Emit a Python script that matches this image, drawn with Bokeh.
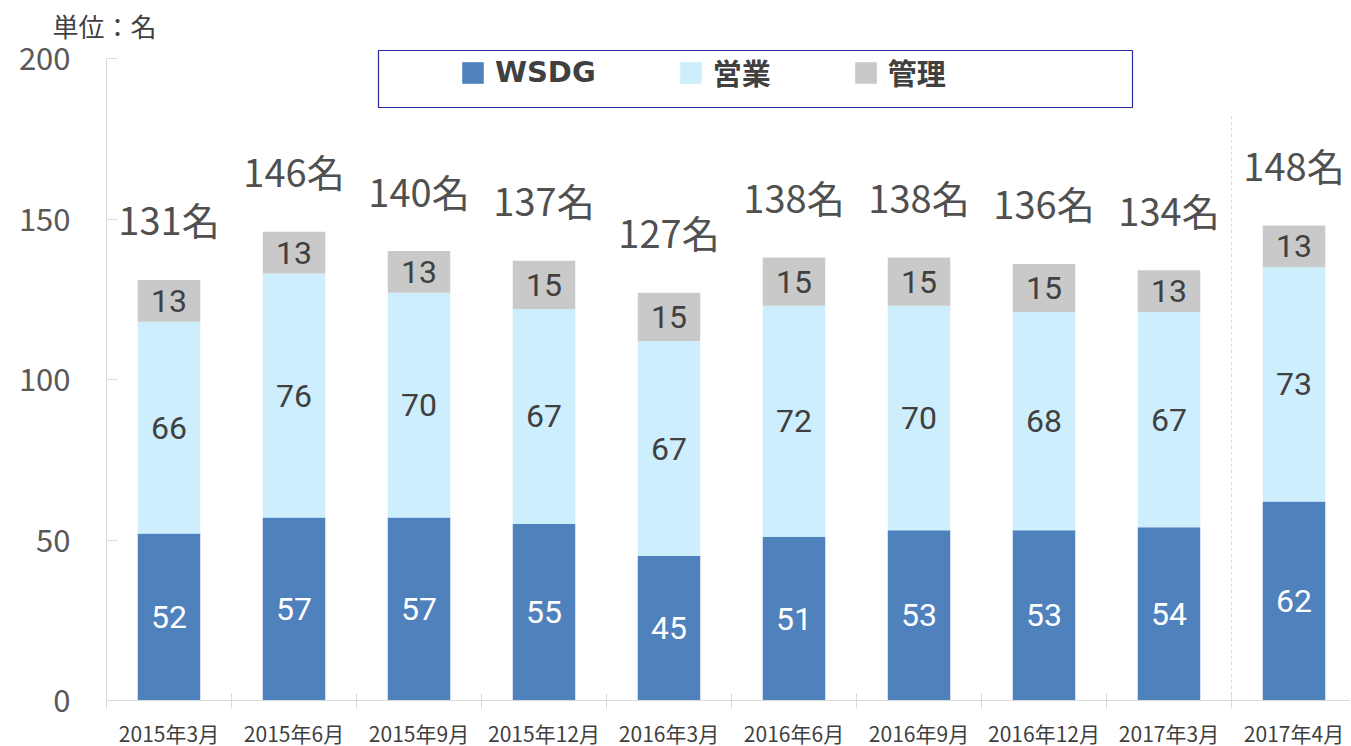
from bokeh.plotting import figure
from bokeh.models import (ColumnDataSource, Legend, LegendItem, BoxAnnotation,
                          FixedTicker, Range1d)
from bokeh.core.properties import value
from bokeh.embed import file_html
from bokeh.resources import INLINE

categories = ["2015年3月", "2015年6月", "2015年9月", "2015年12月", "2016年3月",
              "2016年6月", "2016年9月", "2016年12月", "2017年3月", "2017年4月"]
wsdg = [52, 57, 57, 55, 45, 51, 53, 53, 54, 62]
sales = [66, 76, 70, 67, 67, 72, 70, 68, 67, 73]
admin = [13, 13, 13, 15, 15, 15, 15, 15, 13, 13]
series_names = ["WSDG", "営業", "管理"]
y_ticks = [0, 50, 100, 150, 200]
unit_label = "単位：名"

colors = ["#4f81bd", "#cdeefd", "#c9c9c9"]
JP = "Noto Sans CJK JP"
NUM = "Roboto"
LEG = "'DejaVu Sans', 'Noto Sans CJK JP'"

n = len(categories)
xs = list(range(n))
totals = [a + b + c for a, b, c in zip(wsdg, sales, admin)]

src = ColumnDataSource(dict(x=xs, wsdg=wsdg, sales=sales, admin=admin, total=totals,
                            total_txt=[f"{t}名" for t in totals]))

PX = 3.21           # pixels per unit on y
FRAME_TOP_PAD = 10  # pixels of frame above the 200 line
FW = 1244
p = figure(frame_width=FW, frame_height=int(200 * PX) + FRAME_TOP_PAD,
           output_backend="svg", toolbar_location=None,
           x_range=Range1d(-0.5, -0.5 + FW / 125),
           y_range=Range1d(0, 200 + FRAME_TOP_PAD / PX),
           min_border_left=106, min_border_right=0, min_border_top=48, min_border_bottom=0)
p.outline_line_color = None
p.xgrid.visible = False
p.ygrid.visible = False
p.background_fill_color = "white"

p.title.text = unit_label
p.title.text_font = JP
p.title.text_font_size = "26px"
p.title.text_font_style = "normal"
p.title.text_color = "#404040"
p.title.align = "left"
p.title.offset = -54
p.title.standoff = 9

rs = p.vbar_stack(["wsdg", "sales", "admin"], x="x", width=0.5, source=src,
                  color=colors, line_color=None)

# separator before last category
sep_x = n - 1.5
p.segment(x0=[sep_x], y0=[-2], x1=[sep_x], y1=[182], line_color="#d9d9d9",
          line_width=1, line_dash="3 3")

# segment labels
seg_src = ColumnDataSource(dict(
    x=xs * 3,
    y=[w / 2 for w in wsdg] + [w + s / 2 for w, s in zip(wsdg, sales)]
      + [w + s + a / 2 for w, s, a in zip(wsdg, sales, admin)],
    t=[str(v) for v in wsdg + sales + admin],
    c=["white"] * n + ["#404040"] * (2 * n),
))
p.text(x="x", y="y", text="t", source=seg_src, text_color="c", text_align="center",
       text_baseline="middle", text_font=value(NUM), text_font_size="32px",
       text_font_style="normal")

# totals
p.text(x="x", y="total", text="total_txt", source=src, text_color="#505050",
       text_align="center", text_baseline="middle", y_offset=-61,
       text_font=value(JP), text_font_size="38px")

# axes
xa = p.xaxis[0]
xa.ticker = FixedTicker(ticks=xs, minor_ticks=[i - 0.5 for i in range(n + 1)])
xa.major_label_overrides = {i: c for i, c in enumerate(categories)}
xa.major_tick_in = 0
xa.major_tick_out = 0
xa.minor_tick_in = 7
xa.minor_tick_out = 8
xa.minor_tick_line_color = "#d9d9d9"
xa.axis_line_color = "#d9d9d9"
xa.major_label_text_font = JP
xa.major_label_text_font_size = "21px"
xa.major_label_text_color = "#404040"
xa.major_label_standoff = 9

ya = p.yaxis[0]
ya.ticker = FixedTicker(ticks=y_ticks)
ya.bounds = (0, 200)
ya.major_tick_in = 11
ya.major_tick_out = 0
ya.minor_tick_line_color = None
ya.major_tick_line_color = "#d9d9d9"
ya.axis_line_color = "#d9d9d9"
ya.major_label_text_font = JP
ya.major_label_text_font_size = "31px"
ya.major_label_text_color = "#595959"
ya.major_label_standoff = 36

# legend (frame-relative screen coords, y from frame bottom)
box = BoxAnnotation(left=272, right=1026, bottom=593, top=650,
                    left_units="screen", right_units="screen",
                    bottom_units="screen", top_units="screen",
                    fill_alpha=0, line_color="#2a2aa0", line_alpha=1.0, line_width=1.2)
p.add_layout(box)

legend = Legend(items=[LegendItem(label=nm, renderers=[r]) for nm, r in zip(series_names, rs)],
                orientation="horizontal", location=(353, 607), padding=0, margin=0,
                spacing=81, glyph_width=27, glyph_height=27, label_standoff=9,
                label_height=27,
                label_text_font=LEG, label_text_font_size="29px",
                label_text_font_style="bold", label_text_color="#404040",
                label_text_baseline="middle",
                border_line_alpha=0, background_fill_alpha=0)
p.add_layout(legend)

html = file_html(p, INLINE)
html = html.replace("<head>", "<head><style>html,body{overflow:hidden}</style>", 1)
open("out.html", "w").write(html)
